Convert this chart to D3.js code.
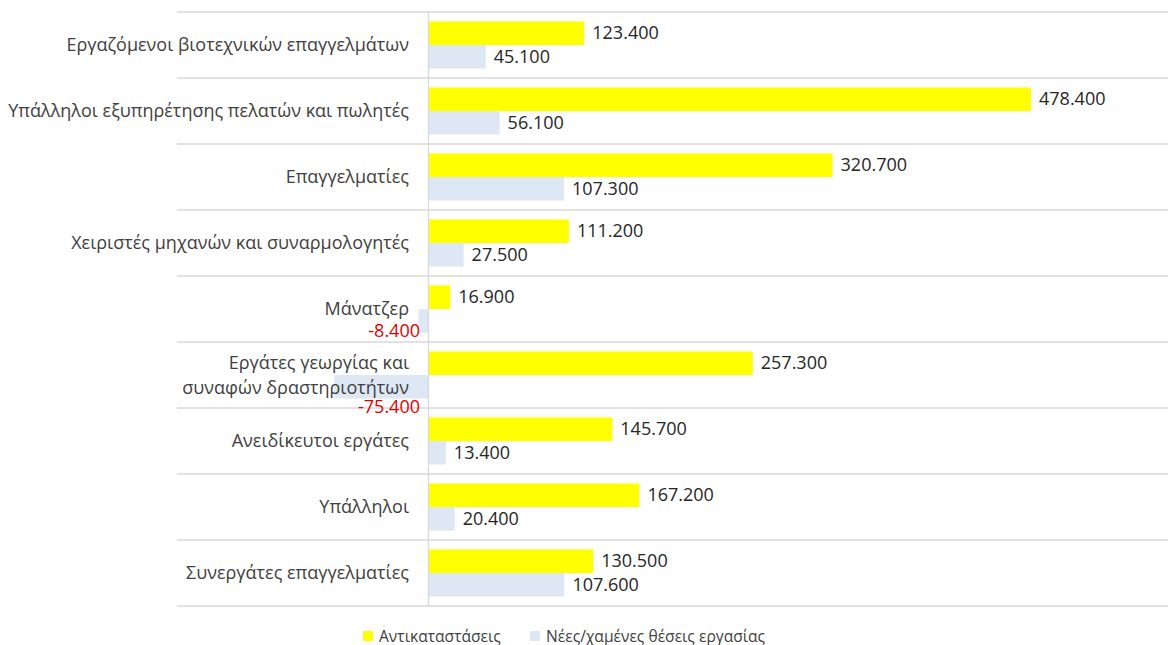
<!DOCTYPE html>
<html lang="el">
<head>
  <meta charset="UTF-8">
  <title>Αντικαταστάσεις και νέες θέσεις εργασίας</title>
  <script src="https://d3js.org/d3.v7.min.js"></script>
  <style>
    body { margin: 0; background: #fff; }
    text { font-family: "Open Sans", "Noto Sans", sans-serif; }
  </style>
</head>
<body>
  <script>
    // data (χιλιάδες)
    var categories = [
      "Εργαζόμενοι βιοτεχνικών επαγγελμάτων",
      "Υπάλληλοι εξυπηρέτησης πελατών και πωλητές",
      "Επαγγελματίες",
      "Χειριστές μηχανών και συναρμολογητές",
      "Μάνατζερ",
      "Εργάτες γεωργίας και|συναφών δραστηριοτήτων",
      "Ανειδίκευτοι εργάτες",
      "Υπάλληλοι",
      "Συνεργάτες επαγγελματίες"
    ];
    var replacement = [123.4, 478.4, 320.7, 111.2, 16.9, 257.3, 145.7, 167.2, 130.5];
    var newJobs = [45.1, 56.1, 107.3, 27.5, -8.4, -75.4, 13.4, 20.4, 107.6];
    var seriesNames = ["Αντικαταστάσεις", "Νέες/χαμένες θέσεις εργασίας"];
    var seriesColors = ["#ffff00", "#dde8f4"];

    var width = 1168, height = 645;
    var margin = { top: 12, right: 0, bottom: 39, left: 177 };
    var zeroX = 429;
    var fontSize = 18;

    var svg = d3.select("body")
      .append("svg")
        .attr("width", width)
        .attr("height", height);

    // scales
    var x = d3.scaleLinear()
      .domain([0, 478.4])
      .range([zeroX, 1031]);

    var y = d3.scaleBand()
      .domain(categories)
      .range([margin.top, height - margin.bottom])
      .paddingInner(0)
      .paddingOuter(0);

    var inner = d3.scaleBand()
      .domain([0, 1])
      .range([0, y.bandwidth()])
      .paddingOuter(0.4)
      .paddingInner(0);

    var fmt = function(v) {
      return d3.format(".3f")(v).replace("−", "-");
    };

    // horizontal separators
    var seps = categories.map(function(c) { return y(c); });
    seps.push(y.range()[1]);
    svg.selectAll("line.sep")
      .data(seps)
      .enter()
      .append("line")
        .attr("class", "sep")
        .attr("x1", margin.left)
        .attr("x2", width)
        .attr("y1", function(d) { return d; })
        .attr("y2", function(d) { return d; })
        .attr("stroke", "#d9d9d9")
        .attr("stroke-width", 1.3);

    // rows of bars
    var bars = [];
    categories.forEach(function(c, i) {
      [replacement[i], newJobs[i]].forEach(function(v, s) {
        bars.push({ cat: c, s: s, v: v });
      });
    });

    svg.selectAll("rect.bar")
      .data(bars)
      .enter()
      .append("rect")
        .attr("class", "bar")
        .attr("x", function(d) { return Math.min(x(0), x(d.v)); })
        .attr("y", function(d) { return y(d.cat) + inner(d.s); })
        .attr("width", function(d) { return Math.abs(x(d.v) - x(0)); })
        .attr("height", inner.bandwidth())
        .attr("fill", function(d) { return seriesColors[d.s]; });

    // zero axis line
    svg.append("line")
      .attr("x1", x(0) - 0.5)
      .attr("x2", x(0) - 0.5)
      .attr("y1", margin.top)
      .attr("y2", y.range()[1])
      .attr("stroke", "#d9d9d9")
      .attr("stroke-width", 1.3);

    // category labels (on top of the negative bar)
    var catLabels = svg.selectAll("text.cat")
      .data(categories)
      .enter()
      .append("text")
        .attr("class", "cat")
        .attr("text-anchor", "end")
        .attr("fill", "#404040")
        .attr("font-size", fontSize);

    catLabels.each(function(c) {
      var parts = c.split("|");
      var t = d3.select(this);
      var cy = y(c) + y.bandwidth() / 2;
      var start = cy - (parts.length - 1) * 12.5 + 6;
      parts.forEach(function(p, k) {
        t.append("tspan")
          .attr("x", 409)
          .attr("y", start + k * 25)
          .text(p);
      });
    });

    // value labels
    var negDy = { "Μάνατζερ": 10, "Εργάτες γεωργίας και|συναφών δραστηριοτήτων": 20 };

    svg.selectAll("text.val")
      .data(bars)
      .enter()
      .append("text")
        .attr("class", "val")
        .attr("font-size", fontSize)
        .attr("fill", function(d) { return d.v < 0 ? "#e00000" : "#262626"; })
        .attr("text-anchor", function(d) { return d.v < 0 ? "end" : "start"; })
        .attr("x", function(d) { return d.v < 0 ? x(0) - 9 : x(d.v) + 8; })
        .attr("y", function(d) {
          var base = y(d.cat) + inner(d.s) + inner.bandwidth() / 2 + 6;
          return d.v < 0 ? base + (negDy[d.cat] || 12) : base;
        })
        .text(function(d) { return fmt(d.v); });

    // legend
    var legendItems = [
      { name: seriesNames[0], color: seriesColors[0], x: 363 },
      { name: seriesNames[1], color: seriesColors[1], x: 530 }
    ];
    var lg = svg.selectAll("g.legend")
      .data(legendItems)
      .enter()
      .append("g")
        .attr("class", "legend")
        .attr("transform", function(d) { return "translate(" + d.x + ",631)"; });
    lg.append("rect")
      .attr("width", 10)
      .attr("height", 10)
      .attr("fill", function(d) { return d.color; });
    lg.append("text")
      .attr("x", 16)
      .attr("y", 11)
      .attr("font-size", 15.6)
      .attr("fill", "#404040")
      .text(function(d) { return d.name; });
  </script>
</body>
</html>
